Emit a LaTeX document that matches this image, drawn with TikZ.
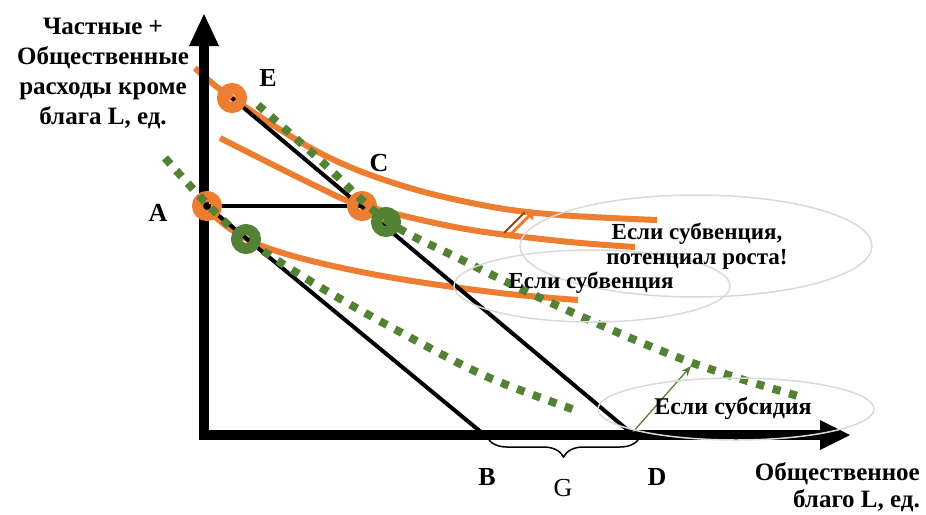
\documentclass[tikz,border=0pt]{standalone}
\usepackage{fontspec}
\setmainfont{Liberation Serif}
\usetikzlibrary{arrows.meta,decorations.pathreplacing}
\definecolor{orng}{HTML}{ED7D31}
\definecolor{grn}{HTML}{548235}
\definecolor{lgray}{HTML}{D9D9D9}
\definecolor{brn}{HTML}{8B4513}
\tikzset{
  indiff/.style={orng, line width=6pt, line cap=butt},
  budget/.style={black, line width=4pt},
  greendots/.style={grn, line width=8pt, dash pattern=on 8pt off 9pt},
  oring/.style={orng, line width=11pt},
  gring/.style={grn, line width=11pt},
  oval/.style={lgray, line width=1.5pt},
  lbl/.style={font=\fontsize{26}{30}\selectfont\bfseries, inner sep=0pt},
  note/.style={font=\fontsize{23}{25}\selectfont\bfseries, inner sep=0pt, align=center},
}
\begin{document}
\begin{tikzpicture}[x=1pt,y=-1pt]
\path[use as bounding box] (0,0) rectangle (926,514);
% key points
\coordinate (A) at (207,206);
\coordinate (E) at (232,98);
\coordinate (C) at (362,206);
\coordinate (Cg) at (386,222);
\coordinate (Ag) at (246,239);
\coordinate (B) at (487,437);
\coordinate (D) at (636,437);
% indifference curves
\draw[indiff] plot[smooth, tension=0.6] coordinates {(195,68) (232,98) (320,153) (400,185) (487,206) (560,215) (657,220)};
\draw[indiff] plot[smooth, tension=0.6] coordinates {(220,138) (320,188) (362,205) (460,228) (560,241) (635,247)};
\draw[indiff] plot[smooth, tension=0.6] coordinates {(198,201) (212,214) (232,230) (262,246) (320,263) (400,279) (500,293) (578,300)};
% budget lines
\draw[budget] (A) -- (C);
\draw[budget] (A) -- (B);
\draw[budget] (E) -- (D);
% axes
\coordinate (Ytop) at (204,14);
\coordinate (Xend) at (850,435);
\draw[line width=10pt] (204,440) -- (204,44);
\fill (189,46) -- (Ytop) -- (219,46) -- cycle;
\draw[line width=10pt] (199,435) -- (822,435);
\fill (820,420) -- (Xend) -- (820,450) -- cycle;
% orange rings
\draw[oring] (E) circle (9.5pt);
\draw[oring] (A) circle (9.5pt);
\draw[oring] (C) circle (9.5pt);
% green dotted curves
\draw[greendots] plot[smooth, tension=0.6] coordinates {(258,105) (320,160) (386,220) (460,259) (560,307) (690,362) (805,398)};
\draw[greendots] plot[smooth, tension=0.6] coordinates {(165,158) (210,207) (246,239) (320,287) (413,339) (490,378) (575,410)};
% green rings
\draw[gring] (Ag) circle (9.5pt);
\draw[gring] (Cg) circle (9.5pt);
% brace G
\draw[line width=1.5pt, decorate, decoration={brace, mirror, amplitude=20pt}] (B) -- (640,437);
% arrows
\coordinate (oa1) at (508,237);
\coordinate (oa2) at (535,210);
\draw[brn, line width=2pt] (504,233) -- (525,212);
\draw[orng, line width=3pt, -{Triangle[length=9pt,width=11pt]}] (oa1) -- (oa2);
\coordinate (ga1) at (633,432);
\coordinate (ga2) at (691,366);
\draw[grn, line width=1.3pt, -{Stealth[length=10pt,width=8pt]}] (ga1) -- (ga2);
% ellipses
\draw[oval] (696,246) ellipse (176pt and 51pt);
\draw[oval] (592,286) ellipse (138pt and 36pt);
\draw[oval] (736,409) ellipse (138pt and 31pt);
% notes
\node[note] (n1) at (697,246) {Если субвенция,\\потенциал роста!};
\node[note] (n2) at (591,283) {Если субвенция};
\node[note, font=\fontsize{24}{25}\selectfont\bfseries] (n3) at (733,408) {Если субсидия};
% point labels
\node[lbl] (lE) at (268,78) {E};
\node[lbl] (lC) at (379,163) {C};
\node[lbl] (lA) at (158,213) {A};
\node[lbl] (lB) at (487,477) {B};
\node[lbl] (lD) at (657,477) {D};
\node[font=\fontsize{26}{30}\selectfont, inner sep=0pt] (lG) at (563,488) {G};
% axis labels
\node[lbl, font=\fontsize{25}{30}\selectfont\bfseries, align=center] (ylab) at (103,73) {Частные +\\Общественные\\расходы кроме\\блага L, ед.};
\node[lbl, font=\fontsize{25}{27}\selectfont\bfseries, align=right, anchor=east] (xlab) at (920,487) {Общественное\\благо L, ед.};
\end{tikzpicture}
\end{document}
